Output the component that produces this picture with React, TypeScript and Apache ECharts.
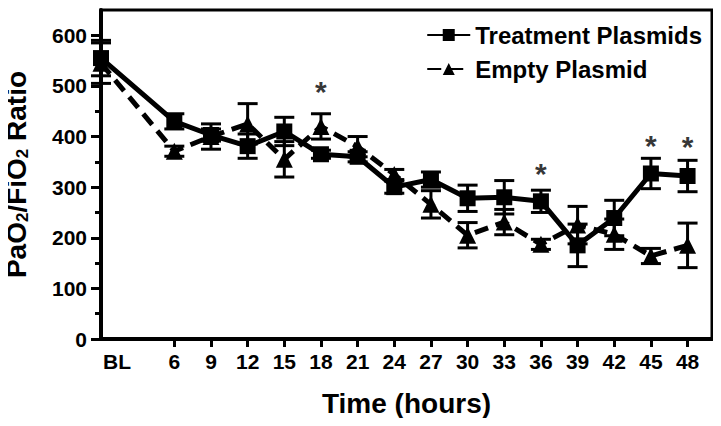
import React, { useEffect, useRef } from "react";
import * as echarts from "echarts";

const hours = [0, 6, 9, 12, 15, 18, 21, 24, 27, 30, 33, 36, 39, 42, 45, 48];
const treatment = [555, 430, 403, 381, 410, 365, 360, 300, 315, 278, 280, 272, 185, 239, 327, 322];
const treatmentErr = [35, 15, 12, 24, 28, 8, 10, 12, 15, 26, 33, 22, 42, 35, 30, 31];
const empty = [545, 371, 400, 425, 355, 420, 380, 325, 266, 205, 231, 187, 225, 207, 164, 185];
const emptyErr = [40, 10, 25, 40, 35, 25, 20, 10, 27, 25, 25, 10, 37, 30, 15, 44];
const starHours = [18, 36, 45, 48];
const starValues = [488, 327, 382, 380];
const xLabelValues = [0, 6, 9, 12, 15, 18, 21, 24, 27, 30, 33, 36, 39, 42, 45, 48];
const xTickValues = [6, 9, 12, 15, 18, 21, 24, 27, 30, 33, 36, 39, 42, 45, 48];
const yMajor = [0, 100, 200, 300, 400, 500, 600];
const yMinor = [50, 150, 250, 350, 450, 550];

const FONT = "'Liberation Sans', Arial, Helvetica, sans-serif";

function errorSeries(vals: number[], errs: number[]) {
  return {
    type: "custom",
    z: 3,
    silent: true,
    data: hours.map((h, i) => [h, vals[i], errs[i]]),
    renderItem: (_p: any, api: any) => {
      const x = api.value(0);
      const y = api.value(1);
      const e = api.value(2);
      const top = api.coord([x, y + e]);
      const bot = api.coord([x, y - e]);
      const hw = 10;
      const style = { stroke: "#000", lineWidth: 3 };
      return {
        type: "group",
        children: [
          { type: "line", shape: { x1: top[0], y1: top[1], x2: bot[0], y2: bot[1] }, style },
          { type: "line", shape: { x1: top[0] - hw, y1: top[1], x2: top[0] + hw, y2: top[1] }, style },
          { type: "line", shape: { x1: bot[0] - hw, y1: bot[1], x2: bot[0] + hw, y2: bot[1] }, style },
        ],
      };
    },
  };
}

export default function App() {
  const ref = useRef<HTMLDivElement>(null);
  useEffect(() => {
    if (!ref.current) return;
    const chart = echarts.init(ref.current, null, { renderer: "svg" });
    chart.setOption({
      animation: false,
      backgroundColor: "#fff",
      textStyle: { fontFamily: FONT },
      grid: {
        left: 101,
        right: 9,
        top: 10,
        bottom: 87,
        containLabel: false,
        outerBoundsMode: "none",
        show: true,
        borderColor: "#000",
        borderWidth: 3,
        backgroundColor: "transparent",
      },
      legend: {
        orient: "vertical",
        right: 14,
        top: 18,
        itemGap: 10,
        itemWidth: 43,
        itemHeight: 15,
        textStyle: { fontSize: 24, fontWeight: "bold", color: "#000", fontFamily: FONT },
        data: ["Treatment Plasmids", "Empty Plasmid"],
      },
      xAxis: {
        type: "value",
        min: 0,
        max: 50,
        name: "Time (hours)",
        nameLocation: "middle",
        nameGap: 50,
        nameTextStyle: { fontSize: 28, fontWeight: "bold", color: "#000", fontFamily: FONT },
        splitLine: { show: false },
        axisLine: { show: true, onZero: false, lineStyle: { color: "#000", width: 4 } },
        axisTick: {
          show: true,
          inside: false,
          length: 8,
          customValues: xTickValues,
          lineStyle: { color: "#000", width: 3 },
        },
        axisLabel: {
          customValues: xLabelValues,
          margin: 12,
          fontSize: 21,
          fontWeight: "bold",
          color: "#000",
          fontFamily: FONT,
          formatter: (v: number) => (v === 0 ? "{bl|BL}" : String(v)),
          rich: {
            bl: { fontSize: 21, fontWeight: "bold", color: "#000", fontFamily: FONT, padding: [0, 0, 0, 32] },
          },
        },
      },
      yAxis: [
        {
          type: "value",
          min: 0,
          max: 650,
          name: "PaO{sub|2}/FiO{sub|2} Ratio",
          nameLocation: "middle",
          nameGap: 70,
          nameTextStyle: {
            fontSize: 28,
            fontWeight: "bold",
            color: "#000",
            fontFamily: FONT,
            rich: {
              sub: { fontSize: 17, fontWeight: "bold", color: "#000", fontFamily: FONT, padding: [13, 0, 0, 0] },
            },
          },
          splitLine: { show: false },
          axisLine: { show: true, lineStyle: { color: "#000", width: 4 } },
          axisTick: { show: true, length: 10, customValues: yMajor, lineStyle: { color: "#000", width: 3 } },
          axisLabel: {
            customValues: yMajor,
            margin: 14,
            fontSize: 21,
            fontWeight: "bold",
            color: "#000",
            fontFamily: FONT,
          },
        },
        {
          type: "value",
          min: 0,
          max: 650,
          position: "left",
          splitLine: { show: false },
          axisLine: { show: false },
          axisTick: { show: true, length: 6, customValues: yMinor, lineStyle: { color: "#000", width: 3 } },
          axisLabel: { show: false },
        },
      ],
      series: [
        errorSeries(empty, emptyErr),
        errorSeries(treatment, treatmentErr),
        {
          name: "Empty Plasmid",
          type: "line",
          z: 4,
          data: hours.map((h, i) => [h, empty[i]]),
          symbol: "triangle",
          symbolSize: 17,
          itemStyle: { color: "#000" },
          lineStyle: { color: "#000", width: 5, type: [14, 8] },
        },
        {
          name: "Treatment Plasmids",
          type: "line",
          z: 5,
          data: hours.map((h, i) => [h, treatment[i]]),
          symbol: "rect",
          symbolSize: 16,
          itemStyle: { color: "#000" },
          lineStyle: { color: "#000", width: 5 },
        },
        {
          type: "scatter",
          z: 6,
          silent: true,
          symbolSize: 1,
          itemStyle: { color: "transparent" },
          data: starHours.map((h, i) => [h, starValues[i]]),
          label: {
            show: true,
            position: "inside",
            formatter: "*",
            fontSize: 30,
            fontWeight: "bold",
            color: "#000",
            textBorderWidth: 0,
            fontFamily: FONT,
          },
        },
      ],
    });
    return () => chart.dispose();
  }, []);
  return <div ref={ref} style={{ width: 721, height: 426, margin: -8 }} />;
}
